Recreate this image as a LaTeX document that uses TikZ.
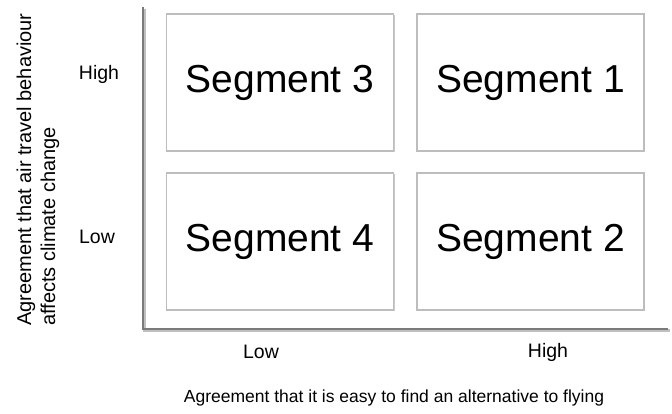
\documentclass[tikz,border=0pt]{standalone}
\usepackage{fontspec}
\setmainfont{Liberation Sans}
\usetikzlibrary{shadows}
\definecolor{boxline}{HTML}{BDBDBD}
\definecolor{axisline}{HTML}{7A7A7A}
\tikzset{
  segbox/.style={draw=boxline, line width=1.2pt, fill=white,
    drop shadow={shadow xshift=1.2pt, shadow yshift=-1.2pt, opacity=0.35, fill=black!60},
    minimum width=227pt, minimum height=137pt, inner sep=0pt,
    font=\fontsize{39}{44}\selectfont},
  axislbl/.style={font=\fontsize{19.5}{23}\selectfont, inner sep=0pt},
  titlelbl/.style={font=\fontsize{17.5}{21}\selectfont, inner sep=0pt, align=center},
  ytitlelbl/.style={font=\fontsize{20}{24}\selectfont, inner sep=0pt, align=left},
  axis/.style={draw=axisline, line width=2.6pt},
  axisshadow/.style={draw=black!25, line width=2.6pt}
}
\begin{document}
\begin{tikzpicture}[x=1pt, y=-1pt]
\useasboundingbox (0,0) rectangle (672,413);
% axes
\coordinate (top) at (143,7);
\coordinate (origin) at (143,329);
\coordinate (right) at (668,329);
\draw[axisshadow] ([shift={(1.5,1.5)}]top) -- ([shift={(1.5,1.5)}]origin) -- ([shift={(1.5,1.5)}]right);
\draw[axis] (top) -- (origin) -- (right);
% quadrants
\node[segbox] (s3) at (280,82.5) {Segment 3};
\node[segbox] (s1) at (530.5,82.5) {Segment 1};
\node[segbox] (s4) at (280,241.5) {Segment 4};
\node[segbox] (s2) at (530.5,241.5) {Segment 2};
% axis levels
\node[axislbl] (yhigh) at (99,74) {High};
\node[axislbl] (ylow) at (97,237) {Low};
\node[axislbl] (xlow) at (261,352) {Low};
\node[axislbl] (xhigh) at (548,352) {High};
% axis titles
\node[ytitlelbl, rotate=90, anchor=west] (ytitle) at (38,326) {Agreement that air travel behaviour\\affects climate change};
\node[titlelbl] (xtitle) at (394,398) {Agreement that it is easy to find an alternative to flying};
\end{tikzpicture}
\end{document}
